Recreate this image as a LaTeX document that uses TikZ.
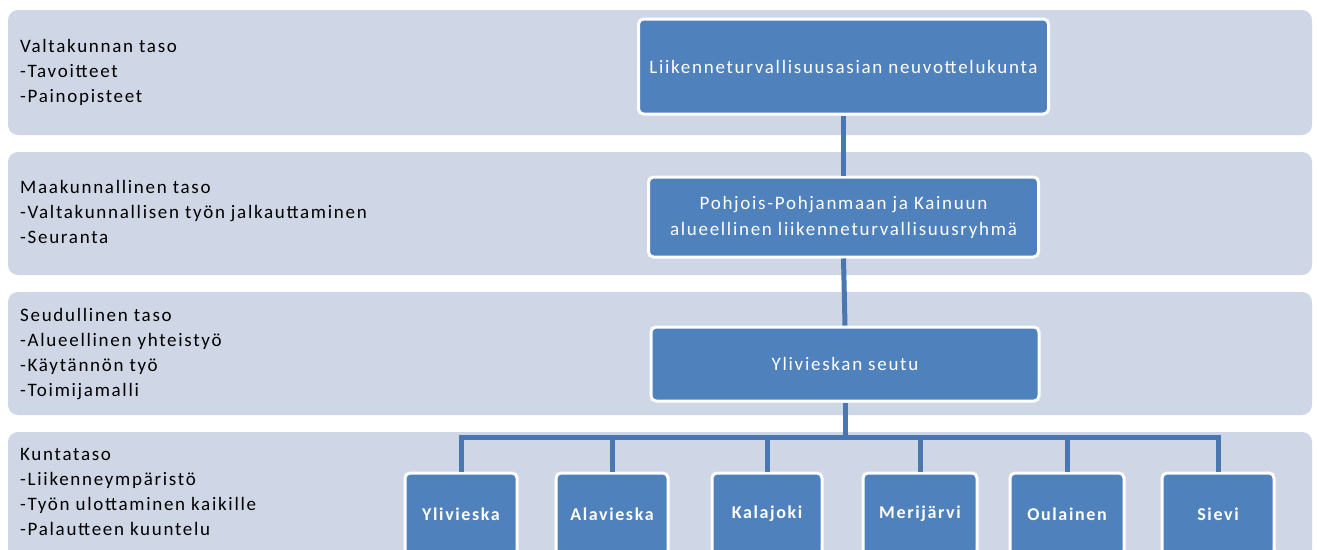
\documentclass[tikz,border=0pt]{standalone}
\usepackage{fontspec}
\setmainfont{Carlito}
\newfontfamily\spacedfont[LetterSpace=9]{Carlito}
\usepackage{tikz}

\definecolor{bandfill}{HTML}{CFD6E5}
\definecolor{boxfill}{HTML}{4F81BD}
\definecolor{linkcol}{HTML}{4A77B0}

\begin{document}
\begin{tikzpicture}[x=1pt,y=-1pt,
	band_node/.style={rectangle,rounded corners=10pt,fill=bandfill,minimum width=1304pt,inner sep=0pt},
	label_node/.style={anchor=north west,align=left,inner sep=0pt,font=\spacedfont\fontsize{19}{25}\selectfont},
	org_node/.style={rectangle,rounded corners=5pt,fill=boxfill,draw=white,line width=3pt,text=white,align=center,inner sep=0pt,font=\spacedfont\fontsize{19}{26}\selectfont},
	town_node/.style={org_node,minimum width=112pt,minimum height=82pt,font=\spacedfont\bfseries\fontsize{18}{24}\selectfont},
	link_line/.style={draw=linkcol,line width=5pt}]
	\useasboundingbox (0,0) rectangle (1317,549);
	\clip (0,0) rectangle (1317,549);
	\fill[white] (0,0) rectangle (1317,549);
	% bands
	\node[band_node,minimum height=125pt] (b1) at (660,72.5) {};
	\node[band_node,minimum height=123pt] (b2) at (660,213.5) {};
	\node[band_node,minimum height=123pt] (b3) at (660,353.5) {};
	\node[band_node,minimum height=130pt] (b4) at (660,497) {};
	% level texts
	\node[label_node] (t1) at (20,39) {Valtakunnan taso\\-Tavoitteet\\-Painopisteet};
	\node[label_node] (t2) at (20,180) {Maakunnallinen taso\\-Valtakunnallisen työn jalkauttaminen\\-Seuranta};
	\node[label_node] (t3) at (20,308) {Seudullinen taso\\-Alueellinen yhteistyö\\-Käytännön työ\\-Toimijamalli};
	\node[label_node] (t4) at (20,448) {Kuntataso\\-Liikenneympäristö\\-Työn ulottaminen kaikille\\-Palautteen kuuntelu};
	% organisation boxes
	\node[org_node,minimum width=410pt,minimum height=95pt] (neuv) at (843.5,66.5) {Liikenneturvallisuusasian neuvottelukunta};
	\node[org_node,minimum width=390pt,minimum height=80pt] (ryhma) at (843.5,217) {Pohjois-Pohjanmaan ja Kainuun\\alueellinen liikenneturvallisuusryhmä};
	\node[org_node,minimum width=388pt,minimum height=74pt] (seutu) at (845,364) {Ylivieskan seutu};
	\node[town_node] (ylivieska) at (461,514) {Ylivieska};
	\node[town_node] (alavieska) at (612,514) {Alavieska};
	\node[town_node,minimum width=110pt] (kalajoki) at (767,514) {Kalajoki};
	\node[town_node,minimum width=114pt] (merijarvi) at (920,514) {Merijärvi};
	\node[town_node,minimum width=114pt] (oulainen) at (1067,514) {Oulainen};
	\node[town_node] (sievi) at (1218,514) {Sievi};
	\coordinate (bus) at (845,437);
	% links
	\draw[link_line] (neuv.south) -- (ryhma.north);
	\draw[link_line] (ryhma.south) -- (seutu.north);
	\draw[link_line] (seutu.south) -- (bus);
	\foreach \k in {ylivieska,alavieska,kalajoki,merijarvi,oulainen,sievi}
		\draw[link_line] (bus) -| (\k.north);
\end{tikzpicture}
\end{document}
